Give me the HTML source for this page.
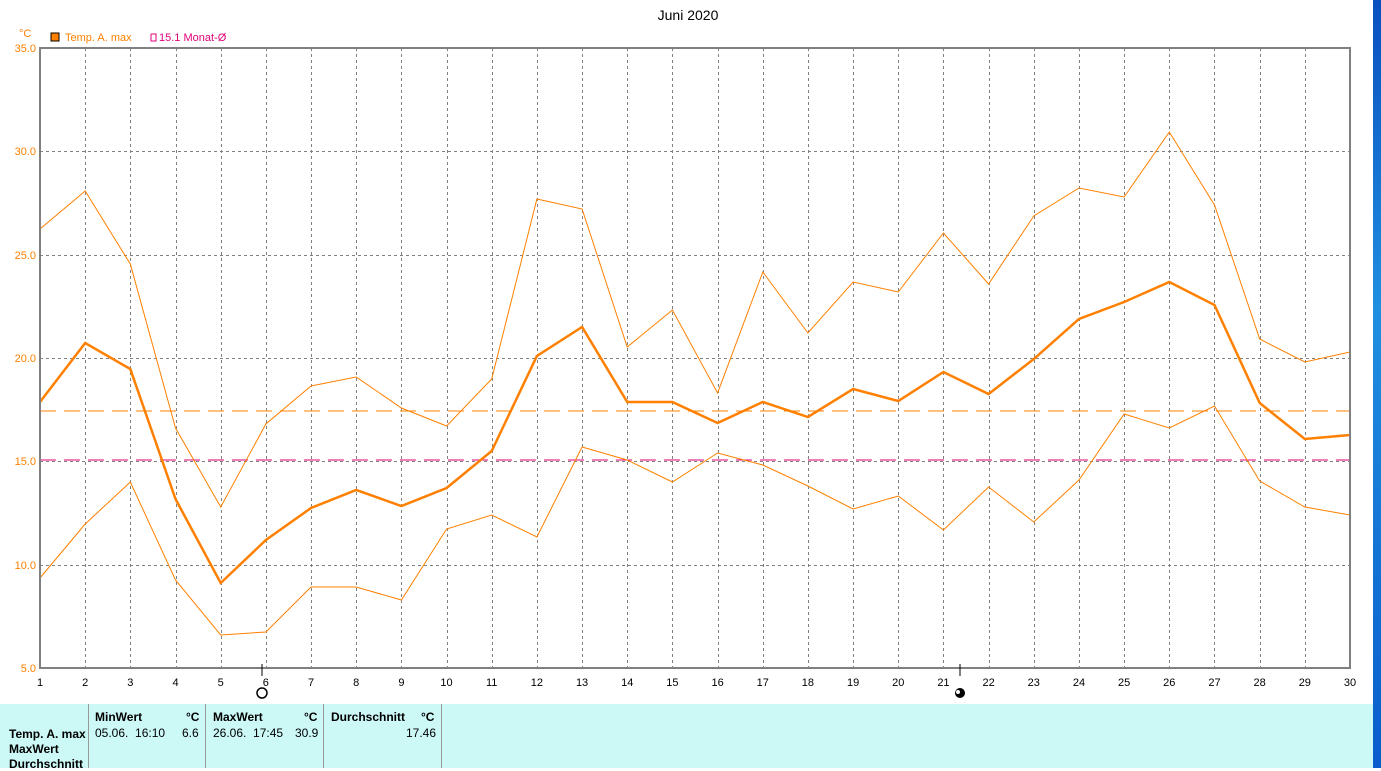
<!DOCTYPE html>
<html><head><style>
body{margin:0;width:1381px;height:768px;background:#fff;overflow:hidden;position:relative;font-family:"Liberation Sans",sans-serif}
.blue{position:absolute;left:1373px;top:0;width:8px;height:768px;background:linear-gradient(#0a4fc0,#1f8fe0 40%,#0a5ccc)}
.panel{position:absolute;left:0;top:704px;width:1373px;height:64px;background:#ccf8f6}
.panel div{position:absolute;font-size:12px;color:#000}
.b{font-weight:bold}
.sep{position:absolute;top:0;width:1px;height:64px;background:#999}
</style></head><body>
<svg width="1373" height="704" style="position:absolute;left:0;top:0" font-family="Liberation Sans, sans-serif">
<text x="688" y="20" font-size="14" text-anchor="middle">Juni 2020</text>
<text x="19" y="37" font-size="11" fill="#ff8000">°C</text>
<rect x="51" y="33" width="8" height="8" fill="#ff8000" stroke="#000"/>
<text x="65" y="41" font-size="11" fill="#ff8000">Temp. A. max</text>
<path d="M151 34 v7 h5 v-7 h-5" fill="none" stroke="#e0007a"/>
<text x="159" y="41" font-size="11" fill="#e0007a">15.1 Monat-Ø</text>
<g stroke="#808080" stroke-dasharray="3,3" stroke-width="1" shape-rendering="crispEdges" id="grid"></g>
<g font-size="11" fill="#ff8000" text-anchor="end">
<text x="36" y="52">35.0</text><text x="36" y="155">30.0</text><text x="36" y="259">25.0</text><text x="36" y="362">20.0</text><text x="36" y="465">15.0</text><text x="36" y="569">10.0</text><text x="36" y="672">5.0</text>
</g>
<g font-size="11" fill="#000" text-anchor="middle" id="xl"></g>
<line x1="40" y1="411" x2="1350" y2="411" stroke="#ff8000" stroke-dasharray="16,8" shape-rendering="crispEdges"/>
<line x1="40" y1="460" x2="1350" y2="460" stroke="#e0007a" stroke-dasharray="16,8" shape-rendering="crispEdges"/>
<polyline id="mx" fill="none" stroke="#ff8000" stroke-width="1"/>
<polyline id="mn" fill="none" stroke="#ff8000" stroke-width="1"/>
<polyline id="av" fill="none" stroke="#ff8000" stroke-width="2.5"/>
<rect x="40" y="48" width="1310" height="620" fill="none" stroke="#808080" stroke-width="2"/>
<line x1="262" y1="664" x2="262" y2="676" stroke="#000"/>
<circle cx="262" cy="693" r="5" fill="none" stroke="#000" stroke-width="1.5"/>
<line x1="960" y1="664" x2="960" y2="676" stroke="#000"/>
<circle cx="960" cy="693" r="5" fill="#000"/><circle cx="958" cy="692" r="2" fill="#fff"/>
</svg>
<div class="blue"></div>
<div class="panel">
<div class="sep" style="left:88px"></div><div class="sep" style="left:205px"></div><div class="sep" style="left:323px"></div><div class="sep" style="left:441px"></div>
<div class="b" style="left:95px;top:6px">MinWert</div><div class="b" style="left:186px;top:6px">°C</div>
<div class="b" style="left:213px;top:6px">MaxWert</div><div class="b" style="left:304px;top:6px">°C</div>
<div class="b" style="left:331px;top:6px">Durchschnitt</div><div class="b" style="left:421px;top:6px">°C</div>
<div class="b" style="left:9px;top:23px">Temp. A. max</div>
<div style="left:95px;top:22px">05.06.&nbsp; 16:10</div><div style="left:182px;top:22px">6.6</div>
<div style="left:213px;top:22px">26.06.&nbsp; 17:45</div><div style="left:295px;top:22px">30.9</div>
<div style="left:406px;top:22px">17.46</div>
<div class="b" style="left:9px;top:38px">MaxWert</div>
<div class="b" style="left:9px;top:53px">Durchschnitt</div>
</div>
<script>
const X=i=>40+i*1310/29;
const mx=[229,191,264,428,507,424,386,377,408,426,379,199,209,347,310,393,272,333,282,292,233,284,216,188,197,132,205,339,362,352];
const av=[402,343,369,499,583,540,508,490,506,488,451,356,327,402,402,423,402,417,389,401,372,394,359,319,302,282,305,403,439,435];
const mn=[578,524,482,580,635,632,587,587,600,529,515,537,447,460,482,453,465,486,509,496,530,487,522,480,414,428,406,481,507,515];
const p=a=>a.map((y,i)=>X(i).toFixed(1)+','+y).join(' ');
document.getElementById('mx').setAttribute('points',p(mx));
document.getElementById('mn').setAttribute('points',p(mn));
document.getElementById('av').setAttribute('points',p(av));
let g='',t='';
for(let i=1;i<29;i++){const x=Math.round(X(i))+0.5;g+=`<line x1="${x}" y1="48" x2="${x}" y2="668"/>`;}
for(const y of [151,255,358,461,565])g+=`<line x1="40" y1="${y+0.5}" x2="1350" y2="${y+0.5}"/>`;
for(let i=0;i<30;i++)t+=`<text x="${X(i)}" y="686">${i+1}</text>`;
document.getElementById('grid').innerHTML=g;
document.getElementById('xl').innerHTML=t;
</script>
</body></html>
